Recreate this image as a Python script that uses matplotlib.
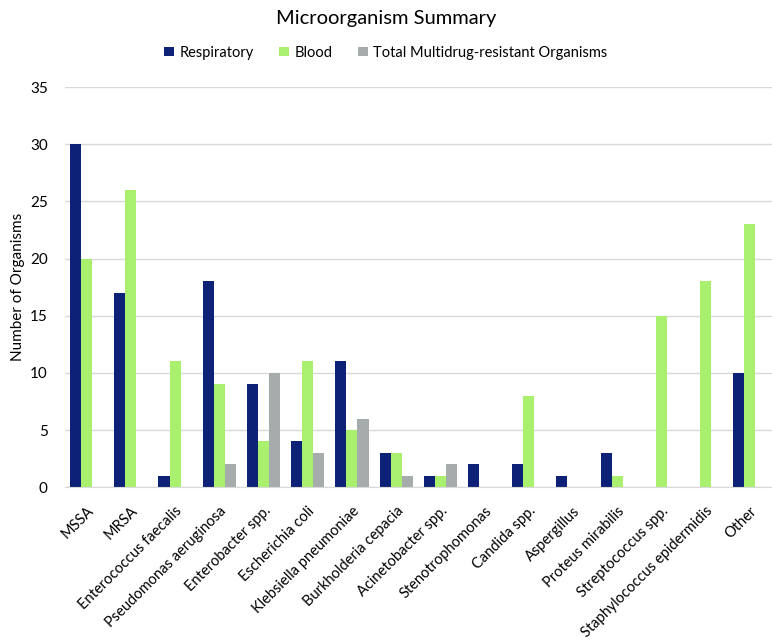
import matplotlib.pyplot as plt
import numpy as np

nan = np.nan
categories = ['MSSA', 'MRSA', 'Enterococcus faecalis', 'Pseudomonas aeruginosa',
              'Enterobacter spp.', 'Escherichia coli', 'Klebsiella pneumoniae',
              'Burkholderia cepacia', 'Acinetobacter spp.', 'Stenotrophomonas',
              'Candida spp.', 'Aspergillus', 'Proteus mirabilis',
              'Streptococcus spp.', 'Staphylococcus epidermidis', 'Other']
respiratory = [30, 17, 1, 18, 9, 4, 11, 3, 1, 2, 2, 1, 3, nan, nan, 10]
blood = [20, 26, 11, 9, 4, 11, 5, 3, 1, nan, 8, nan, 1, 15, 18, 23]
mdro = [nan, nan, nan, 2, 10, 3, 6, 1, 2, nan, nan, nan, nan, nan, nan, nan]

plt.rcParams['font.family'] = ['Lato', 'DejaVu Sans']

fig = plt.figure(figsize=(7.72, 6.41), dpi=100)
ax = fig.add_axes([0.0836, 0.240, 0.9164, 0.624])

x = np.arange(len(categories))
w = 0.25
ax.bar(x - w, respiratory, w, color='#0D2277', label='Respiratory')
ax.bar(x, blood, w, color='#A8F06E', label='Blood')
ax.bar(x + w, mdro, w, color='#A6ABAB', label='Total Multidrug-resistant Organisms')

ax.set_xlim(-0.5, len(categories) - 0.5)
ax.set_ylim(0, 35)
ax.set_yticks(np.arange(0, 36, 5))
ax.yaxis.grid(True, color='#D9D9D9', linewidth=1)
ax.set_axisbelow(True)
for s in ['top', 'right', 'left']:
    ax.spines[s].set_visible(False)
ax.spines['bottom'].set_color('#D9D9D9')
ax.tick_params(axis='both', length=0, colors='black')
ax.tick_params(axis='y', pad=12, labelsize=11)
ax.tick_params(axis='x', pad=12)
ax.set_xticks(x)
ax.set_xticklabels(categories, rotation=45, ha='right', rotation_mode='anchor', fontsize=10.5)
ax.set_ylabel('Number of Organisms', fontsize=11)

fig.suptitle('Microorganism Summary', y=0.985, fontsize=14.5)
fig.legend(loc='center', bbox_to_anchor=(0.5, 0.918), ncol=3, frameon=False,
           fontsize=10.5, handlelength=0.65, handleheight=0.65, handletextpad=0.4,
           columnspacing=1.75)

plt.savefig('out.png', dpi=100)
